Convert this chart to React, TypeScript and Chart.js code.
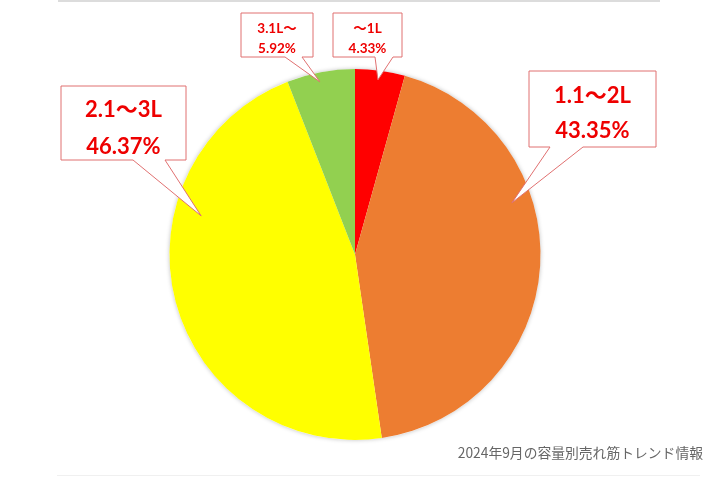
import React, { useEffect, useRef } from "react";
import { Chart, registerables } from "chart.js";

Chart.register(...registerables);

const categories: string[] = ["～1L", "1.1～2L", "2.1～3L", "3.1L～"];
const shares: number[] = [4.33, 43.35, 46.37, 5.92];
const sliceColors: string[] = ["#FF0000", "#ED7D31", "#FFFF00", "#92D050"];
const footerText = "2024年9月の容量別売れ筋トレンド情報";

// callout layout (box in px, pointer base on bottom edge, tip position within slice)
type Callout = {
  x: number; y: number; w: number; h: number;
  b1: number; b2: number; angFrac: number; radFrac: number;
  font: number; l1: number; l2: number;
};
const callouts: Callout[] = [
  { x: 333, y: 13, w: 69, h: 44, b1: 375, b2: 393, angFrac: 0.48, radFrac: 0.95, font: 13.5, l1: 16, l2: 36 },
  { x: 529, y: 71, w: 127, h: 76, b1: 550, b2: 583, angFrac: 0.36, radFrac: 0.89, font: 22, l1: 25, l2: 60 },
  { x: 61, y: 86, w: 125, h: 74, b1: 133, b2: 165, angFrac: 0.673, radFrac: 0.855, font: 22, l1: 24, l2: 61 },
  { x: 241, y: 13, w: 72, h: 44, b1: 285, b2: 302, angFrac: 0.46, radFrac: 0.95, font: 13.5, l1: 16, l2: 36 },
];

const calloutPlugin = {
  id: "callouts",
  beforeDatasetsDraw(chart: any) {
    const ctx = chart.ctx;
    ctx.save();
    ctx.shadowColor = "rgba(0,0,0,0.25)";
    ctx.shadowBlur = 4;
    const arc = chart.getDatasetMeta(0).data[0];
    if (arc) {
      ctx.beginPath();
      ctx.arc(arc.x, arc.y, arc.outerRadius, 0, Math.PI * 2);
      ctx.fillStyle = "#ffffff";
      ctx.fill();
    }
    ctx.restore();
  },
  afterDraw(chart: any) {
    const ctx = chart.ctx;
    const meta = chart.getDatasetMeta(0);
    callouts.forEach((c, i) => {
      const arc = meta.data[i];
      if (!arc) return;
      const a = arc.startAngle + c.angFrac * (arc.endAngle - arc.startAngle);
      const r = arc.outerRadius * c.radFrac;
      const tx = arc.x + Math.cos(a) * r;
      const ty = arc.y + Math.sin(a) * r;
      ctx.save();
      ctx.beginPath();
      ctx.moveTo(c.x, c.y);
      ctx.lineTo(c.x + c.w, c.y);
      ctx.lineTo(c.x + c.w, c.y + c.h);
      ctx.lineTo(c.b2, c.y + c.h);
      ctx.lineTo(tx, ty);
      ctx.lineTo(c.b1, c.y + c.h);
      ctx.lineTo(c.x, c.y + c.h);
      ctx.closePath();
      ctx.fillStyle = "#ffffff";
      ctx.fill();
      ctx.strokeStyle = "#E07070";
      ctx.lineWidth = 1;
      ctx.stroke();
      ctx.fillStyle = "#EE0000";
      ctx.font = `bold ${c.font}px Lato, "Noto Sans CJK JP", sans-serif`;
      ctx.textAlign = "center";
      ctx.textBaseline = "middle";
      const cx = c.x + c.w / 2;
      ctx.fillText(categories[i], cx, c.y + c.l1);
      ctx.fillText(`${shares[i].toFixed(2)}%`, cx, c.y + c.l2);
      ctx.restore();
    });
  },
};

export default function App() {
  const ref = useRef<HTMLCanvasElement>(null);
  useEffect(() => {
    if (!ref.current) return;
    const chart = new Chart(ref.current, {
      type: "pie",
      data: {
        labels: categories,
        datasets: [
          {
            data: shares,
            backgroundColor: sliceColors,
            borderWidth: 0,
          },
        ],
      },
      options: {
        responsive: false,
        animation: false,
        layout: { padding: { left: 169.5, right: 174.5, top: 69, bottom: 37 } },
        plugins: {
          legend: { display: false },
          tooltip: { enabled: false },
          title: { display: false },
        },
      },
      plugins: [calloutPlugin],
    });
    return () => chart.destroy();
  }, []);
  return (
    <div style={{ position: "absolute", left: 0, top: 0, width: 715, height: 477, background: "#fff", overflow: "hidden" }}>
      <div style={{ position: "absolute", left: 58, top: 0, width: 602, height: 2, background: "#dcdcdc" }} />
      <div style={{ position: "absolute", left: 57, top: 475, width: 643, height: 1, background: "#f0f0f0" }} />
      <canvas ref={ref} width={715} height={477} style={{ position: "absolute", left: 0, top: 0, display: "block" }} />
      <div
        style={{
          position: "absolute",
          right: 12,
          top: 443,
          fontFamily: '"Noto Sans CJK JP", sans-serif',
          fontSize: 13.8,
          lineHeight: "19px",
          color: "#666666",
          whiteSpace: "nowrap",
        }}
      >
        {footerText}
      </div>
    </div>
  );
}
